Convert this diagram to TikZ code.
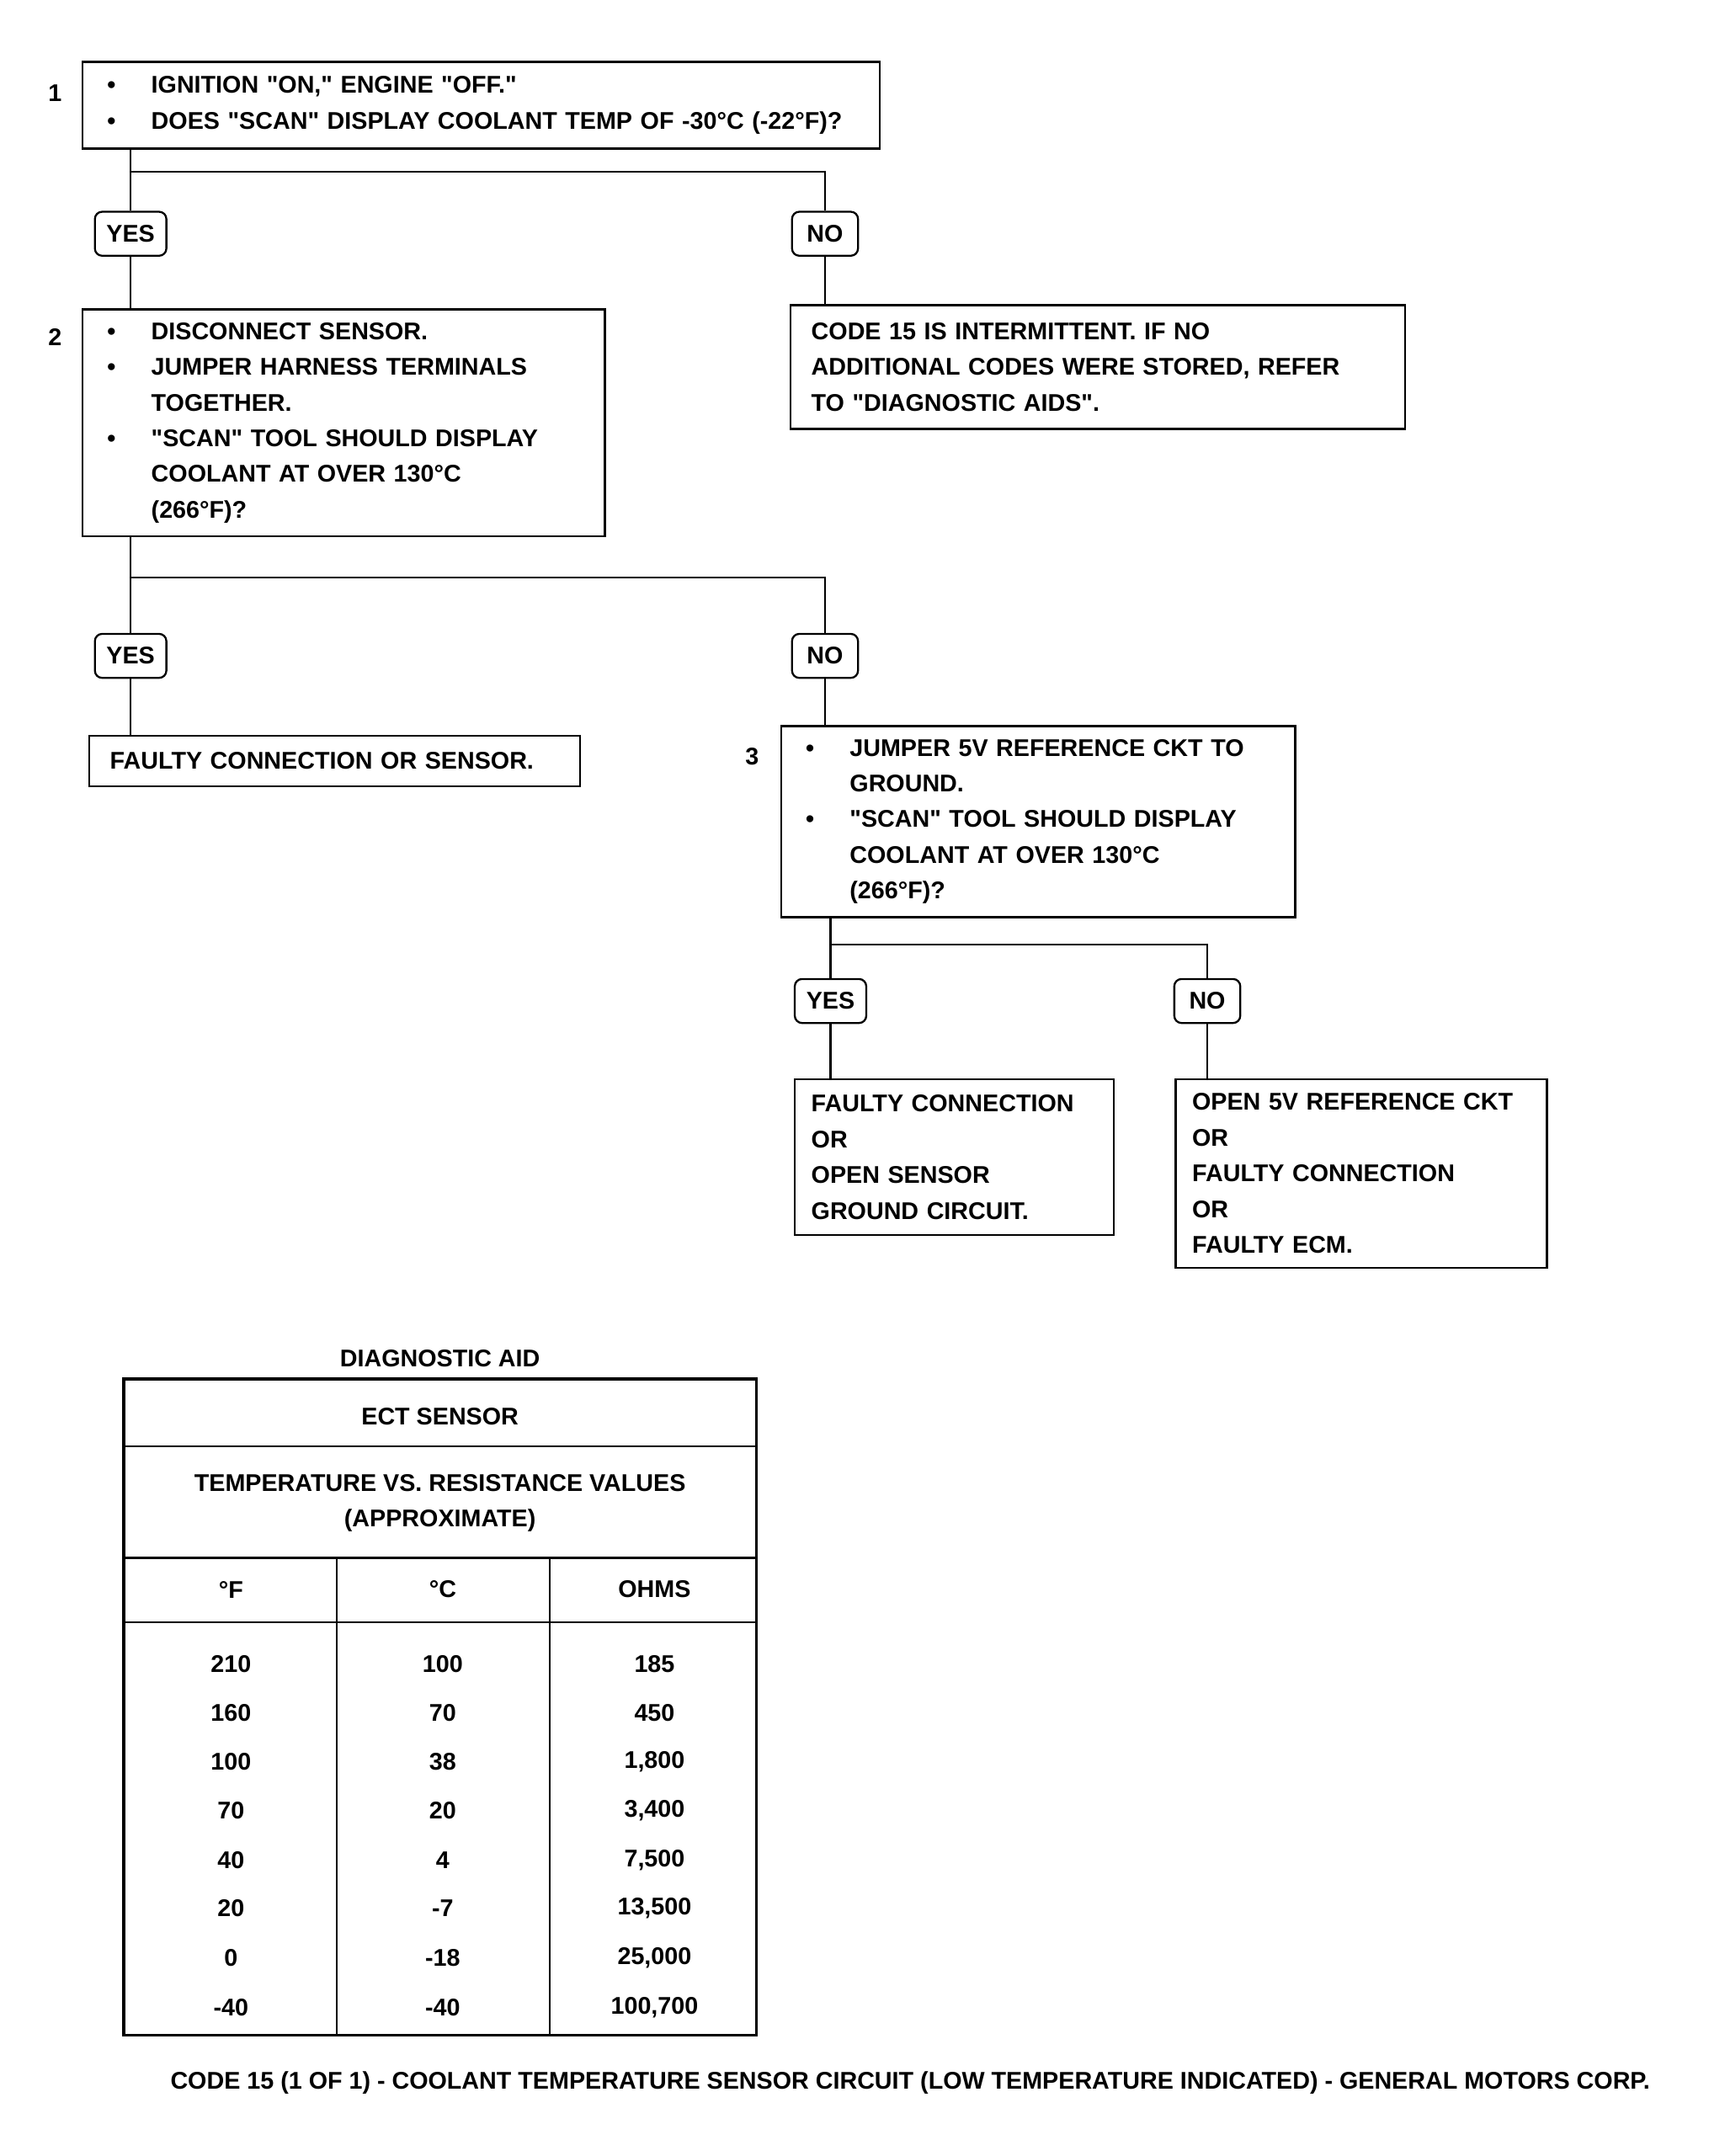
\documentclass[tikz,border=0pt]{standalone}
\usepackage{fontspec}
\setmainfont{Liberation Sans}
\usetikzlibrary{positioning}

\newcommand{\bul}{\makebox[0.64cm][l]{\textbullet}}
\newcommand{\ind}{\hspace*{0.64cm}}
\newcommand{\qq}[1]{\textquotedbl#1\textquotedbl}

\tikzset{
  chartfont/.style={font=\fontsize{10}{14.8}\selectfont\bfseries},
  stepbox/.style={draw, line width=0.8pt, align=left, inner sep=0pt, chartfont},
  answer/.style={draw, rounded corners=3pt, line width=0.8pt, minimum width=1.04cm,
    minimum height=0.64cm, inner sep=1pt, chartfont},
  steplabel/.style={chartfont},
  link/.style={line width=0.8pt},
  cell/.style={chartfont, inner sep=1pt},
}

\begin{document}
\begin{tikzpicture}[x=0.02cm, y=-0.02cm]
  \useasboundingbox (0,0) rectangle (1254,1568);

  % step 1
  \node [steplabel] (n1) at (40,68) {1};
  \node [stepbox, minimum width=11.6cm, minimum height=1.26cm, text width=10.88cm] (check) at (350,76.5)
    {\bul IGNITION \qq{ON,} ENGINE \qq{OFF.}\\
     \bul DOES \qq{SCAN} DISPLAY COOLANT TEMP OF -30°C (-22°F)?};
  \node [answer] (yes1) at (95,170) {YES};
  \node [answer, minimum width=0.96cm] (no1) at (600,170) {NO};
  \node [stepbox, minimum width=8.94cm, minimum height=1.8cm, text width=8.34cm] (intermit) at (798.5,267)
    {CODE 15 IS INTERMITTENT. IF NO\\
     ADDITIONAL CODES WERE STORED, REFER\\
     TO \qq{DIAGNOSTIC AIDS}.};

  % step 2
  \node [steplabel] (n2) at (40,245) {2};
  \node [stepbox, minimum width=7.6cm, minimum height=3.3cm, text width=6.88cm] (probe) at (250,307.5)
    {\bul DISCONNECT SENSOR.\\
     \bul JUMPER HARNESS TERMINALS\\
     \ind TOGETHER.\\
     \bul \qq{SCAN} TOOL SHOULD DISPLAY\\
     \ind COOLANT AT OVER 130°C\\
     \ind (266°F)?};
  \node [answer] (yes2) at (95,477) {YES};
  \node [answer, minimum width=0.96cm] (no2) at (600,477) {NO};
  \node [stepbox, minimum width=7.14cm, minimum height=0.74cm, text width=6.54cm] (sensor) at (243.5,553.5)
    {FAULTY CONNECTION OR SENSOR.};

  % step 3
  \node [steplabel] (n3) at (547,550) {3};
  \node [stepbox, minimum width=7.48cm, minimum height=2.78cm, text width=6.76cm] (jumper) at (755,597.5)
    {\bul JUMPER 5V REFERENCE CKT TO\\
     \ind GROUND.\\
     \bul \qq{SCAN} TOOL SHOULD DISPLAY\\
     \ind COOLANT AT OVER 130°C\\
     \ind (266°F)?};
  \node [answer] (yes3) at (604,728) {YES};
  \node [answer, minimum width=0.96cm] (no3) at (878,728) {NO};
  \node [stepbox, minimum width=4.64cm, minimum height=2.26cm, text width=4.16cm] (ground) at (694,841.5)
    {FAULTY CONNECTION\\
     OR\\
     OPEN SENSOR\\
     GROUND CIRCUIT.};
  \node [stepbox, minimum width=5.4cm, minimum height=2.74cm, text width=4.92cm] (ecm) at (990,853.5)
    {OPEN 5V REFERENCE CKT\\
     OR\\
     FAULTY CONNECTION\\
     OR\\
     FAULTY ECM.};

  % connectors
  \coordinate (fork1) at (95,125);
  \coordinate (fork2) at (95,420);
  \coordinate (fork3) at (604,687);
  \draw [link] (yes1 |- check.south) -- (yes1.north);
  \draw [link] (fork1) -| (no1.north);
  \draw [link] (yes1.south) -- (yes1 |- probe.north);
  \draw [link] (no1.south) -- (no1 |- intermit.north);
  \draw [link] (yes2 |- probe.south) -- (yes2.north);
  \draw [link] (fork2) -| (no2.north);
  \draw [link] (yes2.south) -- (yes2 |- sensor.north);
  \draw [link] (no2.south) -- (no2 |- jumper.north);
  \draw [link] (yes3 |- jumper.south) -- (yes3.north);
  \draw [link] (fork3) -| (no3.north);
  \draw [link] (yes3.south) -- (yes3 |- ground.north);
  \draw [link] (no3.south) -- (no3 |- ecm.north);

  % diagnostic aid table
  \node [cell] (aidtitle) at (320,988) {DIAGNOSTIC AID};
  \draw [line width=1.2pt] (90,1003) rectangle (550,1480);
  \draw [line width=0.8pt] (90,1052) -- (550,1052);
  \draw [line width=0.8pt] (90,1133) -- (550,1133);
  \draw [line width=0.8pt] (90,1180) -- (550,1180);
  \draw [line width=0.8pt] (245,1133) -- (245,1480);
  \draw [line width=0.8pt] (400,1133) -- (400,1480);
  \node [cell] (sensorhead) at (320,1030) {ECT SENSOR};
  \node [cell, align=center] (rangehead) at (320,1093) {TEMPERATURE VS. RESISTANCE VALUES\\(APPROXIMATE)};
  \node [cell] (fhead) at (168,1156) {°F};
  \node [cell] (chead) at (322,1156) {°C};
  \node [cell] (ohmhead) at (476,1156) {OHMS};

  \node [cell] (f1) at (168,1210) {210};  \node [cell] (c1) at (322,1210) {100}; \node [cell] (r1) at (476,1210) {185};
  \node [cell] (f2) at (168,1246) {160};  \node [cell] (c2) at (322,1246) {70};  \node [cell] (r2) at (476,1246) {450};
  \node [cell] (f3) at (168,1281) {100};  \node [cell] (c3) at (322,1281) {38};  \node [cell] (r3) at (476,1281) {1,800};
  \node [cell] (f4) at (168,1317) {70};   \node [cell] (c4) at (322,1317) {20};  \node [cell] (r4) at (476,1317) {3,400};
  \node [cell] (f5) at (168,1353) {40};   \node [cell] (c5) at (322,1353) {4};   \node [cell] (r5) at (476,1353) {7,500};
  \node [cell] (f6) at (168,1388) {20};   \node [cell] (c6) at (322,1388) {-7};  \node [cell] (r6) at (476,1388) {13,500};
  \node [cell] (f7) at (168,1424) {0};    \node [cell] (c7) at (322,1424) {-18}; \node [cell] (r7) at (476,1424) {25,000};
  \node [cell] (f8) at (168,1460) {-40};  \node [cell] (c8) at (322,1460) {-40}; \node [cell] (r8) at (476,1460) {100,700};

  % caption
  \node [cell] (caption) at (662,1515) {CODE 15 (1 OF 1) - COOLANT TEMPERATURE SENSOR CIRCUIT (LOW TEMPERATURE INDICATED) - GENERAL MOTORS CORP.};
\end{tikzpicture}
\end{document}
